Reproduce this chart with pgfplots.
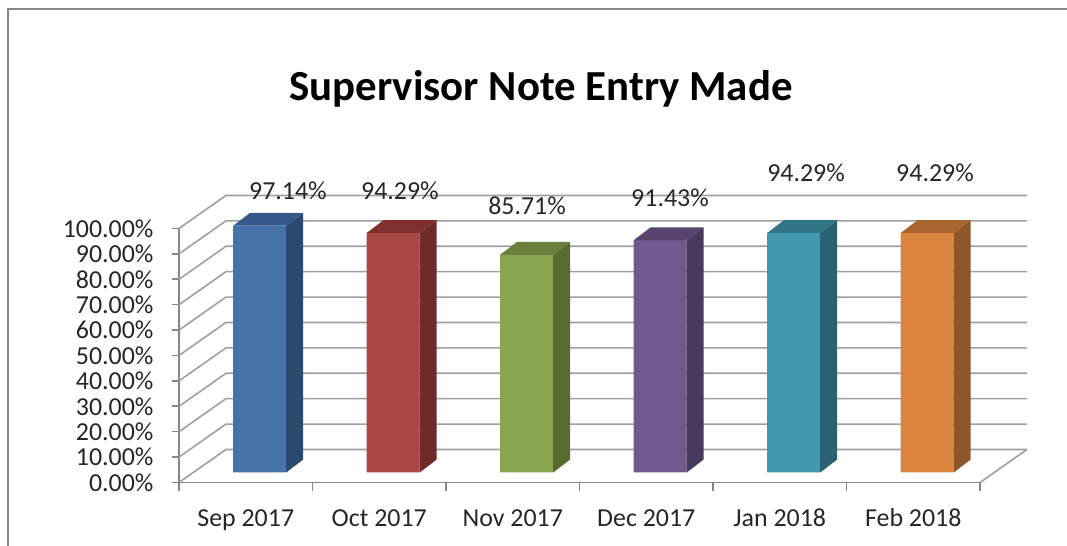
\documentclass[border=0pt]{standalone}
\usepackage{pgfplots}
\pgfplotsset{compat=1.18}
\usepackage{fontspec}
\setmainfont{Carlito}

\definecolor{gridgray}{RGB}{160,160,160}
\definecolor{axisgray}{RGB}{134,134,134}
\definecolor{framegray}{RGB}{135,135,135}
\definecolor{txt}{RGB}{38,38,38}
\definecolor{bF}{RGB}{69,114,168}\definecolor{bS}{RGB}{44,74,111}\definecolor{bT}{RGB}{53,89,138}
\definecolor{rF}{RGB}{170,70,67}\definecolor{rS}{RGB}{110,43,42}\definecolor{rT}{RGB}{128,49,47}
\definecolor{gF}{RGB}{137,165,78}\definecolor{gS}{RGB}{90,107,50}\definecolor{gT}{RGB}{106,127,59}
\definecolor{pF}{RGB}{113,88,143}\definecolor{pS}{RGB}{73,57,93}\definecolor{pT}{RGB}{88,68,110}
\definecolor{tF}{RGB}{65,152,175}\definecolor{tS}{RGB}{42,98,114}\definecolor{tT}{RGB}{50,117,135}
\definecolor{oF}{RGB}{219,132,61}\definecolor{oS}{RGB}{142,86,40}\definecolor{oT}{RGB}{169,101,47}

% #1 category position, #2 value (percent), #3 front, #4 side, #5 top colour
\newcommand{\tdbar}[5]{%
  \pgfmathsetmacro\xl{#1-0.094}%
  \pgfmathsetmacro\xr{#1+0.303}%
  \pgfmathsetmacro\xs{\xr+0.127}%
  \pgfmathsetmacro\xls{\xl+0.127}%
  \pgfmathsetmacro\yb{3.94}%
  \pgfmathsetmacro\yt{#2+3.94}%
  \pgfmathsetmacro\ybs{\yb+5.1}%
  \pgfmathsetmacro\yts{\yt+5.1}%
  \addplot[fill=#3, draw=none, forget plot] coordinates {(\xl,\yb) (\xr,\yb) (\xr,\yt) (\xl,\yt) (\xl,\yb)};
  \addplot[fill=#4, draw=none, forget plot] coordinates {(\xr,\yb) (\xs,\ybs) (\xs,\yts) (\xr,\yt) (\xr,\yb)};
  \addplot[fill=#5, draw=none, forget plot] coordinates {(\xl,\yt) (\xr,\yt) (\xs,\yts) (\xls,\yts) (\xl,\yt)};
}

\begin{document}
\begin{tikzpicture}[x=1bp,y=1bp]
\useasboundingbox (0,0) rectangle (1067,546);
\draw[framegray, line width=2bp] (8,-5) -- (8,537) -- (1075,537);
\begin{axis}[
  at={(245.75bp,63.5bp)}, anchor=origin,
  x=133.5bp, y=2.54bp,
  xmin=-0.5, xmax=5.5, ymin=0, ymax=100,
  clip=false,
  axis x line=bottom, axis y line=left,
  axis line style={-, draw=axisgray, line width=1.6bp},
  ytick={0,10,...,100},
  yticklabel={\pgfmathprintnumber[fixed,fixed zerofill,precision=2]{\tick}\%},
  tick align=outside,
  major tick length=7bp,
  major y tick style={draw=axisgray, line width=1.6bp},
  major x tick style={draw=none},
  xtick={0,1,2,3,4,5},
  xticklabels={Sep 2017, Oct 2017, Nov 2017, Dec 2017, Jan 2018, Feb 2018},
  /pgf/number format/assume math mode=true,
  tick label style={font=\fontsize{26}{26}\selectfont, text=txt},
  yticklabel style={xshift=-15bp},
  xticklabel style={text height=20bp, text depth=6bp, yshift=-13bp},
]
% back wall and side wall grid
\addplot[draw=gridgray, line width=1.6bp, unbounded coords=jump, forget plot] coordinates {
(-0.5,0) (-0.148,13) (5.852,13) (5.852,nan)
(-0.5,10) (-0.148,23) (5.852,23) (5.852,nan)
(-0.5,20) (-0.148,33) (5.852,33) (5.852,nan)
(-0.5,30) (-0.148,43) (5.852,43) (5.852,nan)
(-0.5,40) (-0.148,53) (5.852,53) (5.852,nan)
(-0.5,50) (-0.148,63) (5.852,63) (5.852,nan)
(-0.5,60) (-0.148,73) (5.852,73) (5.852,nan)
(-0.5,70) (-0.148,83) (5.852,83) (5.852,nan)
(-0.5,80) (-0.148,93) (5.852,93) (5.852,nan)
(-0.5,90) (-0.148,103) (5.852,103) (5.852,nan)
(-0.5,100) (-0.148,113) (5.852,113)
};
% floor right edge
\addplot[draw=gridgray, line width=1.6bp, forget plot] coordinates {(5.5,0) (5.852,13)};
% category boundary ticks
\addplot[draw=axisgray, line width=1.6bp, unbounded coords=jump, forget plot] coordinates {
(-0.5,0) (-0.5,-3.2) (-0.5,nan)
(0.5,0) (0.5,-3.2) (0.5,nan)
(1.5,0) (1.5,-3.2) (1.5,nan)
(2.5,0) (2.5,-3.2) (2.5,nan)
(3.5,0) (3.5,-3.2) (3.5,nan)
(4.5,0) (4.5,-3.2) (4.5,nan)
(5.5,0) (5.5,-3.2)
};
% bars
\tdbar{0}{97.14}{bF}{bS}{bT}
\tdbar{1}{94.29}{rF}{rS}{rT}
\tdbar{2}{85.71}{gF}{gS}{gT}
\tdbar{3}{91.43}{pF}{pS}{pT}
\tdbar{4}{94.29}{tF}{tS}{tT}
\tdbar{5}{94.29}{oF}{oS}{oT}
% data labels
\begin{scope}[every node/.style={font=\fontsize{26}{26}\selectfont, text=txt, anchor=center, inner sep=0pt}]
\node at (axis cs:0.316,115.0) {97.14\%};
\node at (axis cs:1.155,115.0) {94.29\%};
\node at (axis cs:2.107,109.1) {85.71\%};
\node at (axis cs:3.178,112.2) {91.43\%};
\node at (axis cs:4.197,122.0) {94.29\%};
\node at (axis cs:5.163,122.0) {94.29\%};
\end{scope}
\node[font=\fontsize{43}{43}\selectfont\bfseries, text=black, anchor=center, inner sep=0pt] at (axis cs:2.212,155.1) {Supervisor Note Entry Made};
\end{axis}
\end{tikzpicture}
\end{document}
